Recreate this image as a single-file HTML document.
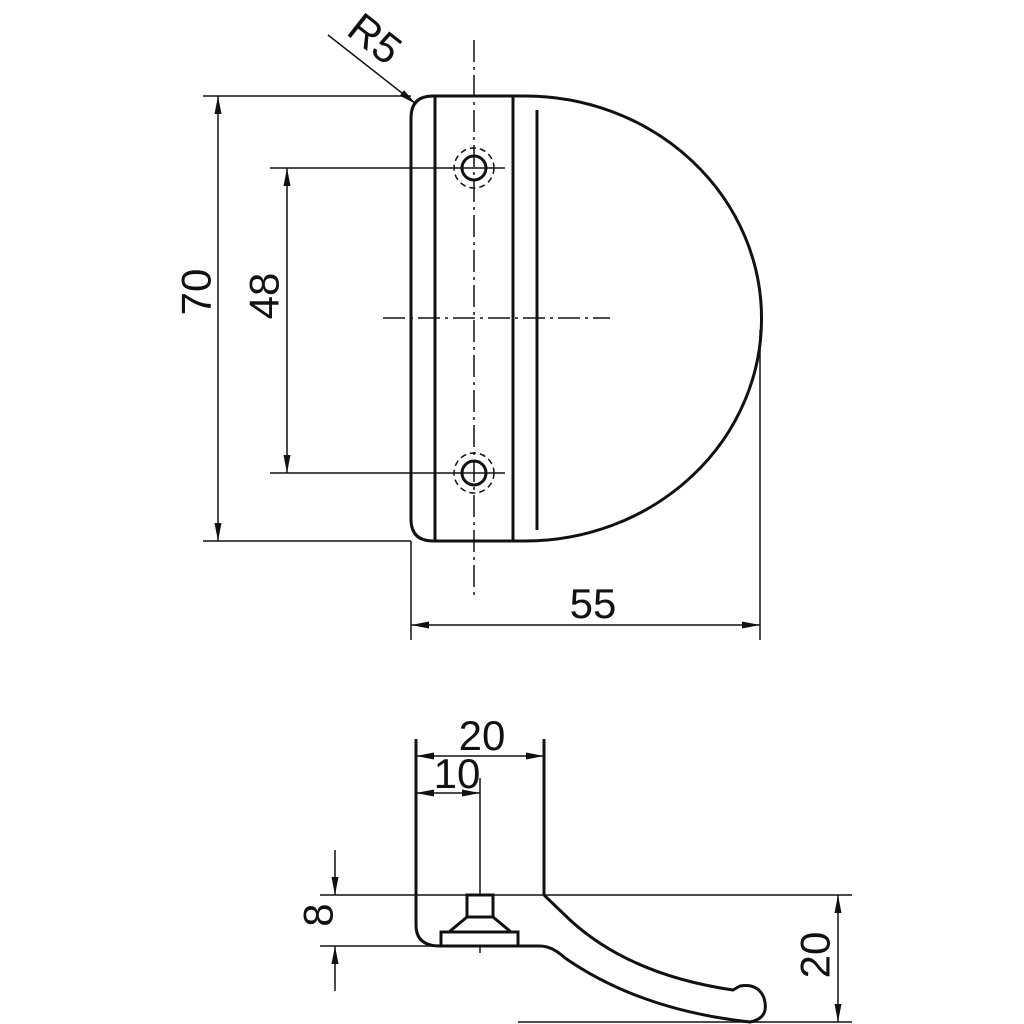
<!DOCTYPE html>
<html><head><style>html,body{margin:0;padding:0;background:#fff}svg{display:block}</style></head><body>
<svg width="1024" height="1024" viewBox="0 0 1024 1024" xmlns="http://www.w3.org/2000/svg">
<defs>
<marker id="a" viewBox="0 0 18 8" refX="18" refY="4" markerWidth="18" markerHeight="8" markerUnits="userSpaceOnUse" orient="auto-start-reverse"><path d="M0,0.5 L18,4 L0,7.5 z" fill="#111"/></marker>
</defs>
<g stroke="#111" fill="none" font-family="Liberation Sans, sans-serif">
<path d="M411,118 Q411,96 433,96 H525 A236 222 0 0 1 525 541 H433 Q411,541 411,519 Z" stroke-width="3"/>
<line x1="435" y1="96" x2="435" y2="541" stroke-width="3"/>
<line x1="513" y1="96" x2="513" y2="541" stroke-width="3"/>
<line x1="537" y1="110" x2="537" y2="530" stroke-width="3"/>
<circle cx="474" cy="168" r="12" stroke-width="3"/>
<circle cx="474" cy="168" r="20" stroke-width="1.5" stroke-dasharray="6 4"/>
<circle cx="474" cy="473" r="12" stroke-width="3"/>
<circle cx="474" cy="473" r="20" stroke-width="1.5" stroke-dasharray="6 4"/>
<line x1="474" y1="40" x2="474" y2="600" stroke-width="1.5" stroke-dasharray="22 5 3 5"/>
<line x1="383" y1="318" x2="610" y2="318" stroke-width="1.5" stroke-dasharray="22 5 3 5"/>
<line x1="448" y1="168" x2="505" y2="168" stroke-width="1.5"/>
<line x1="448" y1="473" x2="505" y2="473" stroke-width="1.5"/>
<line x1="203" y1="96" x2="411" y2="96" stroke-width="1.5"/>
<line x1="203" y1="541" x2="411" y2="541" stroke-width="1.5"/>
<line x1="218" y1="96" x2="218" y2="541" stroke-width="1.5" marker-start="url(#a)" marker-end="url(#a)"/>
<line x1="270" y1="168" x2="448" y2="168" stroke-width="1.5"/>
<line x1="270" y1="473" x2="448" y2="473" stroke-width="1.5"/>
<line x1="287" y1="168" x2="287" y2="473" stroke-width="1.5" marker-start="url(#a)" marker-end="url(#a)"/>
<line x1="411" y1="541" x2="411" y2="640" stroke-width="1.5"/>
<line x1="760" y1="330" x2="760" y2="640" stroke-width="1.5"/>
<line x1="411" y1="625" x2="760" y2="625" stroke-width="1.5" marker-start="url(#a)" marker-end="url(#a)"/>
<line x1="328" y1="35" x2="416" y2="104" stroke-width="1.5" marker-end="url(#a)"/>
<path d="M416,739 V925 Q416,946 440,946 H540 Q552,946 565,958 Q640,1010 750,1022 Q770,1018 764,998 Q758,983 740,986 L733,990 Q630,975 570,920 L544,895 V739" stroke-width="3"/>
<rect x="467" y="895" width="26" height="22" stroke-width="3"/>
<path d="M467,917 L449,932 H511 L493,917" stroke-width="3"/>
<rect x="441" y="932" width="77" height="14" stroke-width="3"/>
<line x1="480" y1="778" x2="480" y2="895" stroke-width="1.5"/>
<line x1="480" y1="946" x2="480" y2="953" stroke-width="1.5"/>
<line x1="416" y1="756" x2="544" y2="756" stroke-width="1.5" marker-start="url(#a)" marker-end="url(#a)"/>
<line x1="416" y1="793" x2="480" y2="793" stroke-width="1.5" marker-start="url(#a)" marker-end="url(#a)"/>
<line x1="320" y1="895" x2="852" y2="895" stroke-width="1.5"/>
<line x1="320" y1="946" x2="441" y2="946" stroke-width="1.5"/>
<line x1="518" y1="1022" x2="852" y2="1022" stroke-width="1.5"/>
<line x1="838" y1="895" x2="838" y2="1022" stroke-width="1.5" marker-start="url(#a)" marker-end="url(#a)"/>
<line x1="335" y1="850" x2="335" y2="895" stroke-width="1.5" marker-end="url(#a)"/>
<line x1="335" y1="991" x2="335" y2="946" stroke-width="1.5" marker-end="url(#a)"/>
</g>
<g fill="#111" font-family="Liberation Sans, sans-serif" font-size="42">
<text x="196" y="292" transform="rotate(-90 196 292)" text-anchor="middle" dominant-baseline="central">70</text>
<text x="264" y="296" transform="rotate(-90 264 296)" text-anchor="middle" dominant-baseline="central">48</text>
<text x="593" y="618" text-anchor="middle">55</text>
<text x="366" y="50" transform="rotate(38 366 50)" text-anchor="middle">R5</text>
<text x="482" y="750" text-anchor="middle">20</text>
<text x="457" y="788" text-anchor="middle">10</text>
<text x="318" y="915" transform="rotate(-90 318 915)" text-anchor="middle" dominant-baseline="central">8</text>
<text x="815" y="955" transform="rotate(-90 815 955)" text-anchor="middle" dominant-baseline="central">20</text>
</g>
</svg>
</body></html>
